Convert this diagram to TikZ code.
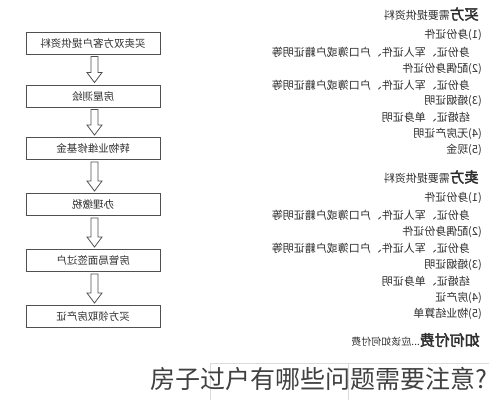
\documentclass[tikz,border=0pt]{standalone}
\usepackage{fontspec}
\usepackage{graphicx}
\usetikzlibrary{calc}
\newfontfamily\cjk{Noto Sans CJK SC}
\newfontfamily\cjkb[FakeBold=2.5]{Noto Sans CJK SC}
\newcommand{\mir}[1]{\reflectbox{#1}}
\definecolor{ink}{HTML}{2E2E2E}
\definecolor{boxline}{HTML}{505050}
\tikzset{
  flowbox/.style={draw=boxline, line width=0.9pt, minimum width=134pt, minimum height=22pt,
    inner sep=0pt, font=\cjk\fontsize{10.5}{12}\selectfont, text=ink},
  hollowarrow/.style={draw=boxline, line width=0.8pt, fill=white},
  rline/.style={anchor=east, inner sep=0pt, font=\cjk\fontsize{11}{13}\selectfont, text=ink},
  faint/.style={draw=black!14, line width=0.6pt}
}
\newcommand{\blockarrow}[2]{%
  \draw[hollowarrow] ($(#1.south)+(-2,2)$) -- ($(#2.north)+(-2,-12)$) -- ($(#2.north)+(-6,-12)$)
    -- ($(#2.north)+(1.5,-2)$) -- ($(#2.north)+(9,-12)$) -- ($(#2.north)+(5,-12)$)
    -- ($(#1.south)+(5,2)$) -- cycle;}
\begin{document}
\begin{tikzpicture}[x=1pt, y=-1pt]
\useasboundingbox (0,0) rectangle (489,400);
% flow chart
\node[flowbox] (b1) at (93,43) {\mir{买卖双方客户提供资料}};
\node[flowbox] (b2) at (93,96) {\mir{房屋测绘}};
\node[flowbox] (b3) at (93,148.5) {\mir{转物业维修基金}};
\node[flowbox] (b4) at (93,204.5) {\mir{办理缴税}};
\node[flowbox] (b5) at (93,260.5) {\mir{房管局面签过户}};
\node[flowbox] (b6) at (93,316.5) {\mir{买方领取房产证}};
\blockarrow{b1}{b2}
\blockarrow{b2}{b3}
\blockarrow{b3}{b4}
\blockarrow{b4}{b5}
\blockarrow{b5}{b6}
% buyer
\node[rline] (h1) at (479,14) {\mir{{\cjkb\fontsize{14.5}{16}\selectfont 买方}需要提供资料}};
\node[rline] (a1) at (482,35) {\mir{(1)身份证件}};
\node[rline] (a2) at (470,52) {\mir{身份证、军人证件、户口簿或户籍证明等}};
\node[rline] (a3) at (482,68.5) {\mir{(2)配偶身份证件}};
\node[rline] (a4) at (470,85) {\mir{身份证、军人证件、户口簿或户籍证明等}};
\node[rline] (a5) at (482,101) {\mir{(3)婚姻证明}};
\node[rline] (a6) at (470,117.5) {\mir{结婚证、单身证明}};
\node[rline] (a7) at (482,134) {\mir{(4)无房产证明}};
\node[rline] (a8) at (482,150) {\mir{(5)现金}};
% seller
\node[rline] (h2) at (479,177) {\mir{{\cjkb\fontsize{14.5}{16}\selectfont 卖方}需要提供资料}};
\node[rline] (s1) at (482,198) {\mir{(1)身份证件}};
\node[rline] (s2) at (470,215) {\mir{身份证、军人证件、户口簿或户籍证明等}};
\node[rline] (s3) at (482,231.5) {\mir{(2)配偶身份证件}};
\node[rline] (s4) at (470,248) {\mir{身份证、军人证件、户口簿或户籍证明等}};
\node[rline] (s5) at (482,265) {\mir{(3)婚姻证明}};
\node[rline] (s6) at (470,281.5) {\mir{结婚证、单身证明}};
\node[rline] (s7) at (482,298) {\mir{(4)房产证}};
\node[rline] (s8) at (482,313.5) {\mir{(5)物业结算单}};
% payment
\node[rline] (p1) at (480,340) {\mir{{\cjkb\fontsize{15}{17}\selectfont 如何付费}{\fontsize{10}{12}\selectfont ...应该如何付费}}};
% faint frame
\coordinate (f1) at (210,400);
\coordinate (f2) at (210,363.5);
\coordinate (f3) at (489,363.5);
\coordinate (f4) at (348,363.5);
\coordinate (f5) at (348,400);
\draw[faint] (f1) -- (f2) -- (f3);
\draw[faint] (f4) -- (f5);
% caption
\node[anchor=east, inner sep=0pt, text=black!75, font=\cjk\fontsize{25}{27}\selectfont] (cap) at (488,379) {房子过户有哪些问题需要注意?};
\end{tikzpicture}
\end{document}
